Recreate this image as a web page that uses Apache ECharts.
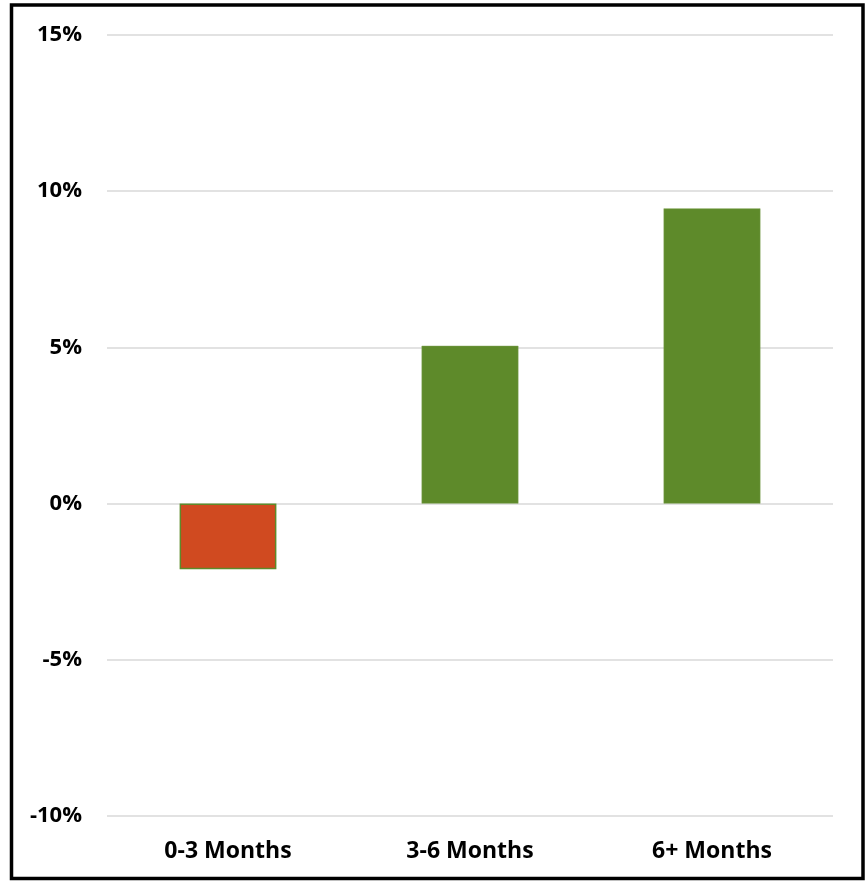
<!DOCTYPE html>
<html>
<head>
<meta charset="utf-8">
<script src="https://cdn.jsdelivr.net/npm/echarts@6/dist/echarts.min.js"></script>
<style>
html,body{margin:0;padding:0;background:#fff;}
#chart{width:865px;height:884px;}
</style>
</head>
<body>
<div id="chart"></div>
<script>
var categories = ['0-3 Months', '3-6 Months', '6+ Months'];
var values = [-2.1, 5.05, 9.45];
var yTicks = [-10, -5, 0, 5, 10, 15];

var chart = echarts.init(document.getElementById('chart'));
var font = '"Open Sans", sans-serif';
chart.setOption({
  animation: false,
  backgroundColor: '#fff',
  graphic: [{
    type: 'rect',
    shape: {x: 11.5, y: 5, width: 851.5, height: 873.5},
    style: {fill: 'none', stroke: '#000', lineWidth: 3.5},
    z: 100
  }],
  grid: {left: 107, right: 32, top: 35, bottom: 68},
  xAxis: {
    type: 'category',
    data: categories,
    axisLine: {show: false},
    axisTick: {show: false},
    axisLabel: {
      margin: 24,
      color: '#000',
      fontWeight: 'bold',
      fontSize: 23,
      fontFamily: font
    }
  },
  yAxis: {
    type: 'value',
    min: yTicks[0],
    max: yTicks[yTicks.length - 1],
    interval: 5,
    axisLine: {show: false},
    axisTick: {show: false},
    splitLine: {lineStyle: {color: '#d9d9d9', width: 1.5}},
    axisLabel: {
      margin: 25,
      color: '#000',
      fontWeight: 'bold',
      fontSize: 22,
      fontFamily: font,
      formatter: function (v) { return v + '%'; }
    }
  },
  series: [{
    type: 'bar',
    barWidth: '40%',
    data: values.map(function (v) {
      return {
        value: v,
        itemStyle: {
          color: v < 0 ? '#d04a20' : '#5e8a2a',
          borderColor: v < 0 ? '#5e8a2a' : '#7a9e4e',
          borderWidth: v < 0 ? 1.5 : 0.5
        }
      };
    })
  }]
});
</script>
</body>
</html>
